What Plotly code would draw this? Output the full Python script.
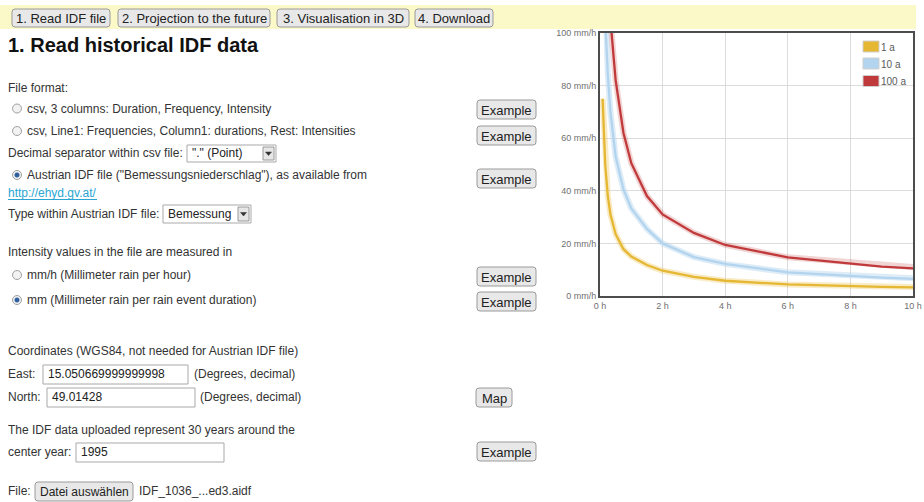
import plotly.graph_objects as go

W, H = 924, 502

# ---------------- data ----------------
durations_h = [5/60, 10/60, 15/60, 20/60, 0.5, 0.75, 1, 1.5, 2, 3, 4, 6, 9, 12]
intensity_1a = [75, 50, 38, 31, 23.5, 17.8, 15, 11.8, 9.6, 7.3, 5.8, 4.4, 3.5, 2.9]
intensity_10a = [150, 105, 84, 70, 53, 40.5, 33.3, 25.5, 20, 14.8, 12.2, 9.0, 7.0, 5.6]
intensity_100a = [200, 155, 125, 105, 82, 62, 50.5, 38, 31, 24, 19.4, 14.7, 11.2, 9.2]
series_names = ["1 a", "10 a", "100 a"]
series_values = [intensity_1a, intensity_10a, intensity_100a]
series_colors = ["#E5B733", "#B3D4EE", "#C0393B"]
halo_colors = ["rgba(229,183,51,0.28)", "rgba(179,212,238,0.45)", "rgba(192,57,59,0.22)"]
x_ticks = [0, 2, 4, 6, 8, 10]
y_ticks = [0, 20, 40, 60, 80, 100]

FONT = "Liberation Sans, Arial, sans-serif"


def X(x):
    return x / W


def Y(y):
    return 1 - y / H


shapes = []
annotations = []


def text(x, y, s, size=12, color="#333333", anchor="left"):
    annotations.append(dict(x=X(x), y=Y(y), xref="paper", yref="paper", text=s,
                            showarrow=False, xanchor=anchor, yanchor="middle",
                            borderpad=0,
                            font=dict(family=FONT, size=size, color=color)))


def rrect(x0, y0, x1, y1, r, fill, line, lw=1):
    rx, ry = r / W, r / H
    a, b, c, d = X(x0), X(x1), Y(y0), Y(y1)  # c top, d bottom
    path = (f"M {a+rx},{c} L {b-rx},{c} Q {b},{c} {b},{c-ry} L {b},{d+ry} "
            f"Q {b},{d} {b-rx},{d} L {a+rx},{d} Q {a},{d} {a},{d+ry} "
            f"L {a},{c-ry} Q {a},{c} {a+rx},{c} Z")
    shapes.append(dict(type="path", path=path, xref="paper", yref="paper",
                       fillcolor=fill, line=dict(color=line, width=lw), layer="below"))


def button(x0, y0, x1, y1, label, size=13):
    rrect(x0, y0, x1, y1, 3, "#e8e8e8", "#9a9a9a")
    text((x0 + x1) / 2, (y0 + y1) / 2 + 0.5, label, size=size, color="#222222", anchor="center")


def box(x0, y0, x1, y1, fill="#ffffff", line="#a9a9a9"):
    shapes.append(dict(type="rect", xref="paper", yref="paper", x0=X(x0), x1=X(x1),
                       y0=Y(y1), y1=Y(y0), fillcolor=fill, line=dict(color=line, width=1),
                       layer="below"))


def select(x0, y0, x1, y1, label):
    box(x0, y0, x1, y1)
    box(x1 - 13, y0 + 2, x1 - 2, y1 - 2, fill="#e6e6e6", line="#9a9a9a")
    cx, cy = x1 - 7.5, (y0 + y1) / 2
    shapes.append(dict(type="path", xref="paper", yref="paper",
                       path=f"M {X(cx-3)},{Y(cy-1.5)} L {X(cx+3)},{Y(cy-1.5)} L {X(cx)},{Y(cy+2)} Z",
                       fillcolor="#333333", line=dict(color="#333333", width=0.5)))
    text(x0 + 4, (y0 + y1) / 2, label, size=12, color="#222222")


def radio(cx, cy, selected=False):
    r = 4.5
    shapes.append(dict(type="circle", xref="paper", yref="paper", x0=X(cx - r), x1=X(cx + r),
                       y0=Y(cy + r), y1=Y(cy - r), fillcolor="#f2f2f2",
                       line=dict(color="#a0a0a0", width=1)))
    if selected:
        r2 = 2.3
        shapes.append(dict(type="circle", xref="paper", yref="paper", x0=X(cx - r2), x1=X(cx + r2),
                           y0=Y(cy + r2), y1=Y(cy - r2), fillcolor="#2f5f9e",
                           line=dict(color="#2f5f9e", width=0.5)))


# ---------------- page decoration ----------------
shapes.append(dict(type="rect", xref="paper", yref="paper", x0=X(0), x1=X(916), y0=Y(29), y1=Y(5),
                   fillcolor="#fbf9c8", line=dict(width=0), layer="below"))
button(12, 9, 110, 27, "1. Read IDF file")
button(118, 9, 270, 27, "2. Projection to the future")
button(277, 9, 409, 27, "3. Visualisation in 3D")
button(415, 9, 493, 27, "4. Download")

text(7, 45, "<b>1. Read historical IDF data</b>", size=20, color="#111111")

text(7, 88, "File format:")
radio(17, 108.5)
text(26, 108.5, "csv, 3 columns: Duration, Frequency, Intensity")
button(477, 100, 536, 119, "Example")
radio(17, 131)
text(26, 131, "csv, Line1: Frequencies, Column1: durations, Rest: Intensities")
button(477, 126, 536, 145, "Example")
text(7, 153, "Decimal separator within csv file:")
select(187, 145, 276, 162, '"." (Point)')
radio(17, 175, selected=True)
text(26, 175, "Austrian IDF file (\"Bemessungsniederschlag\"), as available from")
button(477, 169, 536, 188, "Example")
text(7, 193, "http://ehyd.gv.at/", color="#2aa6d4")
shapes.append(dict(type="line", xref="paper", yref="paper", x0=X(8), x1=X(97), y0=Y(199.5), y1=Y(199.5),
                   line=dict(color="#2aa6d4", width=1)))
text(7, 214, "Type within Austrian IDF file:")
select(163, 205, 251, 223, "Bemessung")

text(7, 252, "Intensity values in the file are measured in")
radio(17, 275)
text(26, 275, "mm/h (Millimeter rain per hour)")
button(477, 267, 536, 286, "Example")
radio(17, 300, selected=True)
text(26, 300, "mm (Millimeter rain per rain event duration)")
button(477, 292, 536, 311, "Example")

text(7, 351, "Coordinates (WGS84, not needed for Austrian IDF file)")
text(7, 374, "East:")
box(43, 365, 188, 384)
text(47, 374, "15.050669999999998", color="#222222")
text(193, 374, "(Degrees, decimal)")
text(7, 397, "North:")
box(47, 388, 195, 407)
text(51, 397, "49.01428", color="#222222")
text(199, 397, "(Degrees, decimal)")
button(476, 388, 512, 407, "Map")

text(7, 430, "The IDF data uploaded represent 30 years around the")
text(7, 452, "center year:")
box(76, 443, 224, 462)
text(80, 452, "1995", color="#222222")
button(477, 442, 536, 461, "Example")

text(7, 491, "File:")
button(35, 482, 133, 501, "Datei auswählen", size=12)
text(138, 491, "IDF_1036_...ed3.aidf")

# ---------------- chart legend (drawn) ----------------
legend_rows = [46.5, 63.5, 81]
for name, col, yy in zip(series_names, series_colors, legend_rows):
    shapes.append(dict(type="rect", xref="paper", yref="paper", x0=X(863), x1=X(879),
                       y0=Y(yy + 5.5), y1=Y(yy - 5.5), fillcolor=col,
                       line=dict(color="#cfcfcf", width=1)))
    text(880, yy + 1, name, size=10, color="#5a5a5a")

# ---------------- chart ----------------
fig = go.Figure()
for name, vals, col, halo in zip(series_names, series_values, series_colors, halo_colors):
    fig.add_trace(go.Scatter(x=durations_h, y=vals, mode="lines", showlegend=False,
                             line=dict(color=halo, width=6), hoverinfo="skip"))
    fig.add_trace(go.Scatter(x=durations_h, y=vals, mode="lines", showlegend=False, name=name,
                             line=dict(color=col, width=2.3)))

axis_common = dict(showgrid=True, gridcolor="#dcdcdc", gridwidth=1, zeroline=False,
                   showline=True, mirror=True, linecolor="#4d4d4d", linewidth=2,
                   ticks="", automargin=False, fixedrange=True,
                   tickfont=dict(family=FONT, size=9, color="#707070"))

fig.update_layout(
    width=W, height=H, autosize=False,
    margin=dict(l=0, r=0, t=0, b=0),
    paper_bgcolor="#ffffff", plot_bgcolor="#ffffff",
    font=dict(family=FONT, size=12, color="#333333"),
    xaxis=dict(domain=[600 / W, 913 / W], range=[0, 10], tickvals=x_ticks,
               ticktext=[f"{v} h" for v in x_ticks], **axis_common),
    yaxis=dict(domain=[Y(296), Y(33)], range=[0, 100], tickvals=y_ticks,
               ticktext=[f"{v} mm/h" for v in y_ticks], **axis_common),
    shapes=shapes,
    annotations=annotations,
    showlegend=False,
)

fig.write_html("out.html", config={"displayModeBar": False},
               post_script="document.body.style.margin='0';document.body.style.overflow='hidden';")
